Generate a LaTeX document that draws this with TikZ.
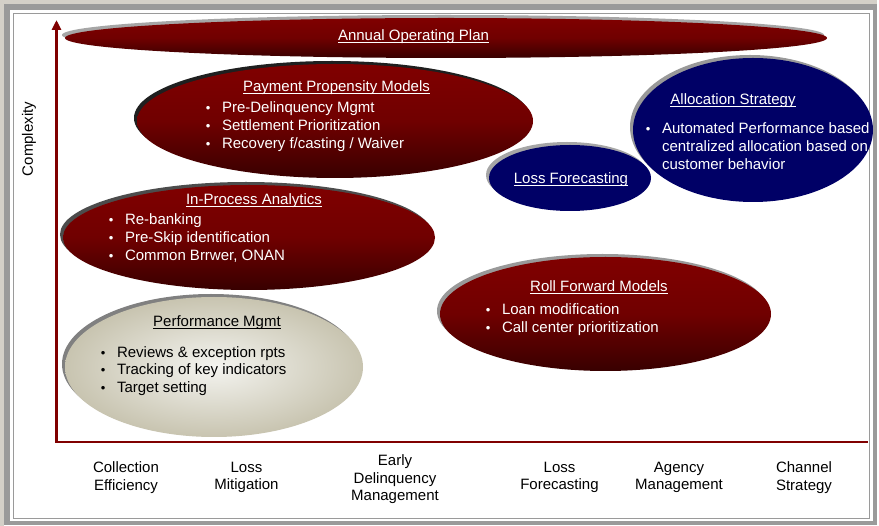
\documentclass[tikz,border=0pt]{standalone}
\usepackage{fontspec}
\setmainfont{Liberation Sans}
\usetikzlibrary{shapes.geometric,shadows,arrows.meta}
\definecolor{beige}{HTML}{D4D0C8}
\definecolor{framegray}{HTML}{9A9A9A}
\definecolor{axisred}{HTML}{800000}
\definecolor{redtop}{HTML}{800000}
\definecolor{redmid}{HTML}{700000}
\definecolor{redbot}{HTML}{380000}
\definecolor{myNavy}{HTML}{000066}
\definecolor{pmInner}{HTML}{F4F4F0}
\definecolor{pmOuter}{HTML}{C8C4B0}
\newcommand\myul[1]{\setbox0\hbox{#1}\rlap{\vrule height -1.3pt depth 2.3pt width \wd0}\box0}
\newcommand\bl{\llap{\raisebox{0.3pt}{\fontsize{13}{13}\selectfont\textbullet}\hspace{11.5pt}}}
\tikzset{
  basefont/.style={font=\fontsize{15}{18}\selectfont, inner sep=0pt, outer sep=0pt},
  blob/.style={ellipse, inner sep=0pt, outer sep=0pt, draw=none},
  shd/.style={drop shadow={shadow xshift=-3pt, shadow yshift=3pt, opacity=1, fill=#1}},
  redblob/.style={blob, top color=redtop, bottom color=redbot, middle color=redmid, shd=#1},
  navyblob/.style={blob, fill=myNavy, shd=#1},
  perfblob/.style={blob, inner color=pmInner, outer color=pmOuter, shd=#1},
  titlew/.style={basefont, text=white, anchor=base},
  titlek/.style={basefont, text=black, anchor=base},
  itemw/.style={basefont, text=white, anchor=base west},
  itemk/.style={basefont, text=black, anchor=base west},
  axislbl/.style={font=\fontsize{15}{17.5}\selectfont, inner sep=0pt, align=center, anchor=north},
}
\begin{document}
\begin{tikzpicture}[x=1pt,y=-1pt]
\useasboundingbox (0,0) rectangle (879,526);
% frame
\fill[white] (0,0) rectangle (879,526);
\fill[beige] (0,0) rectangle (877,4);
\fill[beige] (0,0) rectangle (4,526);
\fill[framegray] (4,4) rectangle (877,525);
\fill[white] (10,10) rectangle (873,521);
\draw[framegray, line width=1pt] (13.5,13.5) rectangle (869.5,518.5);

% axes
\coordinate (origin) at (56.5,442);
\coordinate (xstart) at (55,442);
\coordinate (ytop) at (56.5,20);
\coordinate (xend) at (868,442);
\draw[axisred, line width=2.5pt] (xstart) -- (xend);
\draw[axisred, line width=3pt, -{Triangle[width=9pt,length=10pt]}] (origin) -- (ytop);

% ellipses
\node[redblob=black!35, minimum width=762pt, minimum height=40pt] (aop) at (446,38) {};
\node[redblob=black!88, minimum width=396pt, minimum height=114pt] (ppm) at (335,121) {};
\node[navyblob=black!40, minimum width=240pt, minimum height=144pt] (alloc) at (753,130) {};
\node[navyblob=black!35, minimum width=162pt, minimum height=66pt] (lossf) at (570,178) {};
\node[redblob=black!70, minimum width=372pt, minimum height=105pt] (ipa) at (249,237.5) {};
\node[redblob=black!40, minimum width=331pt, minimum height=114pt] (rfm) at (605.5,314) {};
\node[perfblob=black!50, minimum width=298pt, minimum height=140pt] (perf) at (214,367) {};

% Annual Operating Plan
\node[titlew] (aopT) at (413.5,41) {\myul{Annual Operating Plan}};

% Payment Propensity Models
\node[titlew] (ppmT) at (336.5,92) {\myul{Payment Propensity Models}};
\node[itemw] (ppm1) at (222,113) {\bl Pre-Delinquency Mgmt};
\node[itemw] (ppm2) at (222,131) {\bl Settlement Prioritization};
\node[itemw] (ppm3) at (222,149) {\bl Recovery f/casting / Waiver};

% Allocation Strategy
\node[titlew] (allocT) at (733,105) {\myul{Allocation Strategy}};
\node[itemw] (alloc1) at (662,134) {\bl Automated Performance based};
\node[itemw] (alloc2) at (662,152) {centralized allocation based on};
\node[itemw] (alloc3) at (662,170) {customer behavior};

% Loss Forecasting
\node[titlew] (lossfT) at (571,184) {\myul{Loss Forecasting}};

% In-Process Analytics
\node[titlew] (ipaT) at (254,205) {\myul{In-Process Analytics}};
\node[itemw] (ipa1) at (125,225) {\bl Re-banking};
\node[itemw] (ipa2) at (125,243) {\bl Pre-Skip identification};
\node[itemw] (ipa3) at (125,261) {\bl Common Brrwer, ONAN};

% Roll Forward Models
\node[titlew] (rfmT) at (599,292) {\myul{Roll Forward Models}};
\node[itemw] (rfm1) at (502,315) {\bl Loan modification};
\node[itemw] (rfm2) at (502,333) {\bl Call center prioritization};

% Performance Mgmt
\node[titlek] (perfT) at (217,327) {\myul{Performance Mgmt}};
\node[itemk] (perf1) at (117,357.5) {\bl Reviews \& exception rpts};
\node[itemk] (perf2) at (117,375) {\bl Tracking of key indicators};
\node[itemk] (perf3) at (117,392.5) {\bl Target setting};

% axis labels
\node[basefont, rotate=90] (cplx) at (29,139) {Complexity};
\node[axislbl] (x1) at (126,461.5) {Collection\\Efficiency};
\node[axislbl] (x2) at (246.5,461.5) {Loss\\Mitigation};
\node[axislbl] (x3) at (395,454.5) {Early\\Delinquency\\Management};
\node[axislbl] (x4) at (559.5,461.5) {Loss\\Forecasting};
\node[axislbl] (x5) at (679,461.5) {Agency\\Management};
\node[axislbl] (x6) at (804,461.5) {Channel\\Strategy};
\end{tikzpicture}
\end{document}
